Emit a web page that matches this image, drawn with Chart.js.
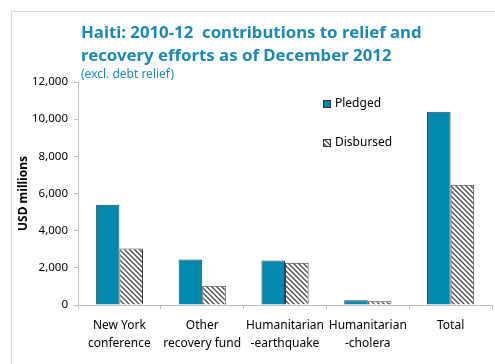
<!DOCTYPE html>
<html>
<head>
<meta charset="utf-8">
<script src="https://cdn.jsdelivr.net/npm/chart.js@4/dist/chart.umd.min.js"></script>
<style>
  html, body { margin: 0; padding: 0; background: #fff; }
  #wrap { position: relative; width: 495px; height: 364px; overflow: hidden; }
  #frame { position: absolute; left: 11px; top: 11px; width: 500px; height: 400px; border: 1px solid #d9d9d9; }
  #title { position: absolute; left: 81px; top: 20px; font: bold 16.8px "Noto Sans", sans-serif; color: #1a8ab5; line-height: 23px; }
  #sub { position: absolute; left: 81px; top: 65px; font: 12px "Noto Sans", sans-serif; color: #1a8ab5; }
  canvas { position: absolute; left: 0; top: 0; }
</style>
</head>
<body>
<div id="wrap">
  <div id="frame"></div>
  <canvas id="chart" width="495" height="364"></canvas>
  <div id="title">Haiti: 2010-12&nbsp; contributions to relief and<br>recovery efforts as of December 2012</div>
  <div id="sub">(excl. debt relief)</div>
</div>
<script>
const categories = [
  ['New York', 'conference'],
  ['Other', 'recovery fund'],
  ['Humanitarian', '-earthquake'],
  ['Humanitarian', '-cholera'],
  ['Total']
];
const pledged = [5400, 2450, 2400, 250, 10400];
const disbursed = [3040, 1035, 2270, 200, 6470];
const yTicks = [0, 2000, 4000, 6000, 8000, 10000, 12000];

// diagonal hatch for disbursed bars
function makeHatch() {
  const p = 5;
  const c = document.createElement('canvas');
  c.width = p; c.height = p;
  const g = c.getContext('2d');
  g.fillStyle = '#fff';
  g.fillRect(0, 0, p, p);
  g.strokeStyle = '#505050';
  g.lineWidth = 1.4;
  g.beginPath();
  g.moveTo(-1, -1); g.lineTo(p + 1, p + 1);
  g.moveTo(-1, p - 1); g.lineTo(1, p + 1);
  g.moveTo(p - 1, -1); g.lineTo(p + 1, 1);
  g.stroke();
  return g.createPattern(c, 'repeat');
}

const ctx = document.getElementById('chart').getContext('2d');
const hatch = makeHatch();

const legendPlugin = {
  id: 'boxLegend',
  afterDraw(chart) {
    const c = chart.ctx;
    const rows = [
      { label: chart.data.datasets[0].label, fill: '#0088ad', y: 104 },
      { label: chart.data.datasets[1].label, fill: hatch, y: 143 }
    ];
    c.save();
    c.font = '12px "Noto Sans", sans-serif';
    c.textBaseline = 'middle';
    rows.forEach(r => {
      c.fillStyle = r.fill;
      c.fillRect(323, r.y - 4, 8, 8);
      c.strokeStyle = '#333';
      c.lineWidth = 1;
      c.strokeRect(323.5, r.y - 3.5, 7, 7);
      c.fillStyle = '#000';
      c.fillText(r.label, 335, r.y);
    });
    c.restore();
  }
};

new Chart(ctx, {
  type: 'bar',
  data: {
    labels: categories,
    datasets: [{
      label: 'Pledged',
      data: pledged,
      backgroundColor: '#0088ad',
      borderColor: '#2a4a5a',
      borderWidth: 1,
      barPercentage: 1,
      categoryPercentage: 0.57
    }, {
      label: 'Disbursed',
      data: disbursed,
      backgroundColor: hatch,
      borderColor: '#404040',
      borderWidth: 1,
      barPercentage: 1,
      categoryPercentage: 0.57
    }]
  },
  options: {
    responsive: false,
    animation: false,
    layout: { padding: { top: 82, right: 3, left: 0, bottom: 0 } },
    plugins: {
      legend: { display: false },
      tooltip: { enabled: false }
    },
    scales: {
      x: {
        offset: true,
        grid: { offset: true, drawOnChartArea: false, tickLength: 4, color: '#bfbfbf' },
        border: { color: '#bfbfbf' },
        ticks: {
          color: '#000',
          font: { family: '"Noto Sans", sans-serif', size: 12, lineHeight: 1.45 },
          padding: 8,
          maxRotation: 0,
          autoSkip: false
        },
        afterFit(s) { s.height = 59; }
      },
      y: {
        min: 0,
        max: 12000,
        afterBuildTicks(s) { s.ticks = yTicks.map(v => ({ value: v })); },
        grid: { drawOnChartArea: false, tickLength: 4, color: '#bfbfbf' },
        border: { color: '#bfbfbf' },
        ticks: {
          color: '#000',
          font: { family: '"Noto Sans", sans-serif', size: 11.5 },
          padding: 6,
          callback: v => v.toLocaleString('en-US')
        },
        title: {
          display: true,
          text: 'USD millions',
          color: '#000',
          font: { family: '"Noto Sans", sans-serif', size: 12, weight: 'bold' },
          padding: { top: 16, bottom: 0 }
        },
        afterFit(s) { s.width = 78; }
      }
    }
  },
  plugins: [legendPlugin]
});
</script>
</body>
</html>
